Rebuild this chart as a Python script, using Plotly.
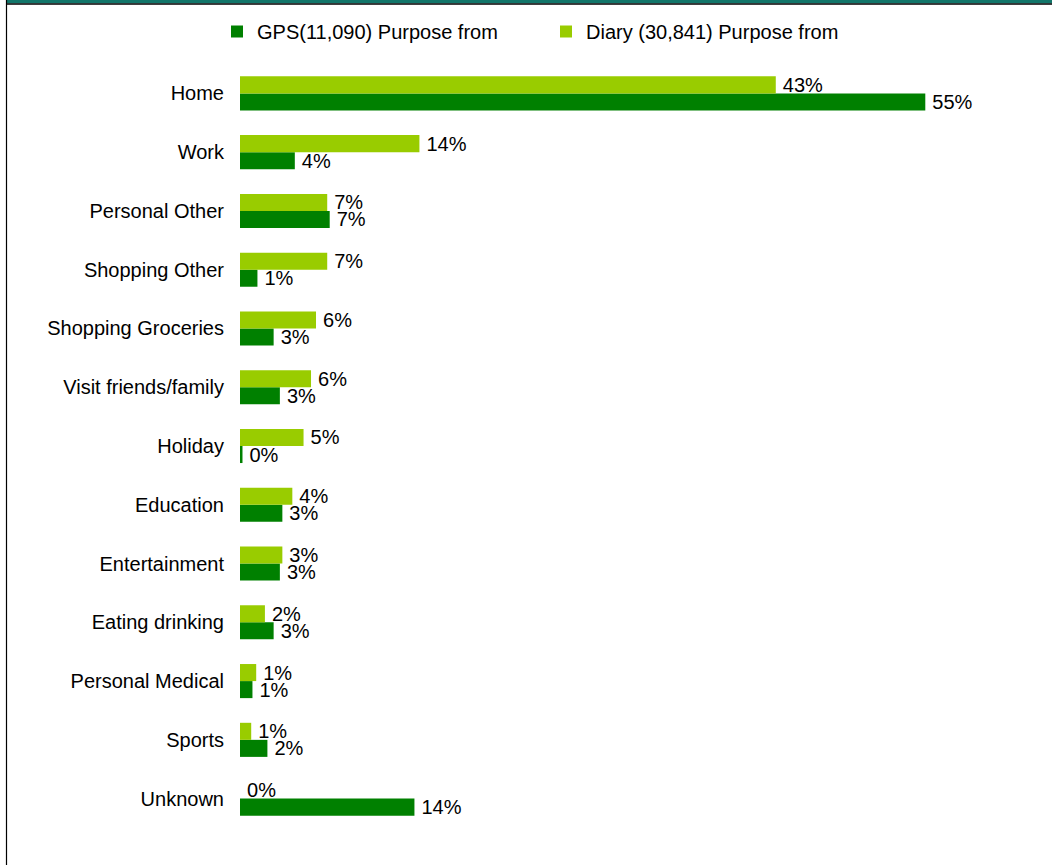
import plotly.graph_objects as go

# Trip purpose shares, GPS vs. diary records (percent)
purposes = [
    "Home", "Work", "Personal Other", "Shopping Other", "Shopping Groceries",
    "Visit friends/family", "Holiday", "Education", "Entertainment",
    "Eating drinking", "Personal Medical", "Sports", "Unknown",
]
gps_share = [55.0, 4.4, 7.2, 1.4, 2.7, 3.2, 0.2, 3.4, 3.2, 2.7, 1.0, 2.2, 14.0]
diary_share = [43.0, 14.4, 7.0, 7.0, 6.1, 5.7, 5.1, 4.2, 3.4, 2.0, 1.3, 0.9, 0.0]

gps_name = "GPS(11,090) Purpose from"
diary_name = "Diary (30,841) Purpose from"

GPS_GREEN = "#008000"
DIARY_GREEN = "#99CC00"
FONT = "Liberation Sans, Arial, sans-serif"

W, H = 1052, 865
ML, MR, MT, MB = 240, 12, 64, 37
plot_w = W - ML - MR
plot_h = H - MT - MB


def px_x(p):
    return (p - ML) / plot_w


def px_y(p):
    return (H - MB - p) / plot_h


fig = go.Figure()
for name, vals, color in [(gps_name, gps_share, GPS_GREEN),
                          (diary_name, diary_share, DIARY_GREEN)]:
    fig.add_trace(go.Bar(
        y=purposes, x=vals, name=name, orientation="h",
        marker=dict(color=color, line=dict(width=0)),
        # thin space keeps the value label a little off the bar end
        texttemplate="\u2009%{x:.0f}%", textposition="outside",
        textfont=dict(family=FONT, size=20, color="black"),
        constraintext="none", cliponaxis=False,
    ))

fig.update_layout(
    width=W, height=H,
    margin=dict(l=ML, r=MR, t=MT, b=MB),
    paper_bgcolor="white", plot_bgcolor="white",
    barmode="group", bargap=0.42, bargroupgap=0,
    font=dict(family=FONT, size=20, color="black"),
    showlegend=True,
    legend=dict(
        orientation="h", x=px_x(217), y=px_y(12), xanchor="left", yanchor="top",
        font=dict(family=FONT, size=20, color="black"),
        entrywidth=284, entrywidthmode="pixels",
        itemwidth=30, bgcolor="rgba(0,0,0,0)",
    ),
    xaxis=dict(range=[0, plot_w / 12.46], visible=False, showgrid=False,
               zeroline=False, fixedrange=True),
    yaxis=dict(categoryorder="array", categoryarray=purposes[::-1],
               showgrid=False, zeroline=False, showline=False, ticks="",
               ticklabelstandoff=15,
               tickfont=dict(family=FONT, size=20, color="black")),
    shapes=[
        # teal band and black rule along the top edge
        dict(type="rect", xref="paper", yref="paper",
             x0=px_x(7), x1=px_x(W + 2), y0=px_y(3.2), y1=px_y(-2),
             fillcolor="#12766A", line=dict(width=0), layer="above"),
        dict(type="line", xref="paper", yref="paper",
             x0=px_x(6), x1=px_x(W + 2), y0=px_y(4), y1=px_y(4),
             line=dict(color="black", width=1.5), layer="above"),
        # black rule along the left edge
        dict(type="line", xref="paper", yref="paper",
             x0=px_x(6.5), x1=px_x(6.5), y0=px_y(0), y1=px_y(H + 2),
             line=dict(color="black", width=1.2), layer="above"),
    ],
)

fig.write_html("out.html")
